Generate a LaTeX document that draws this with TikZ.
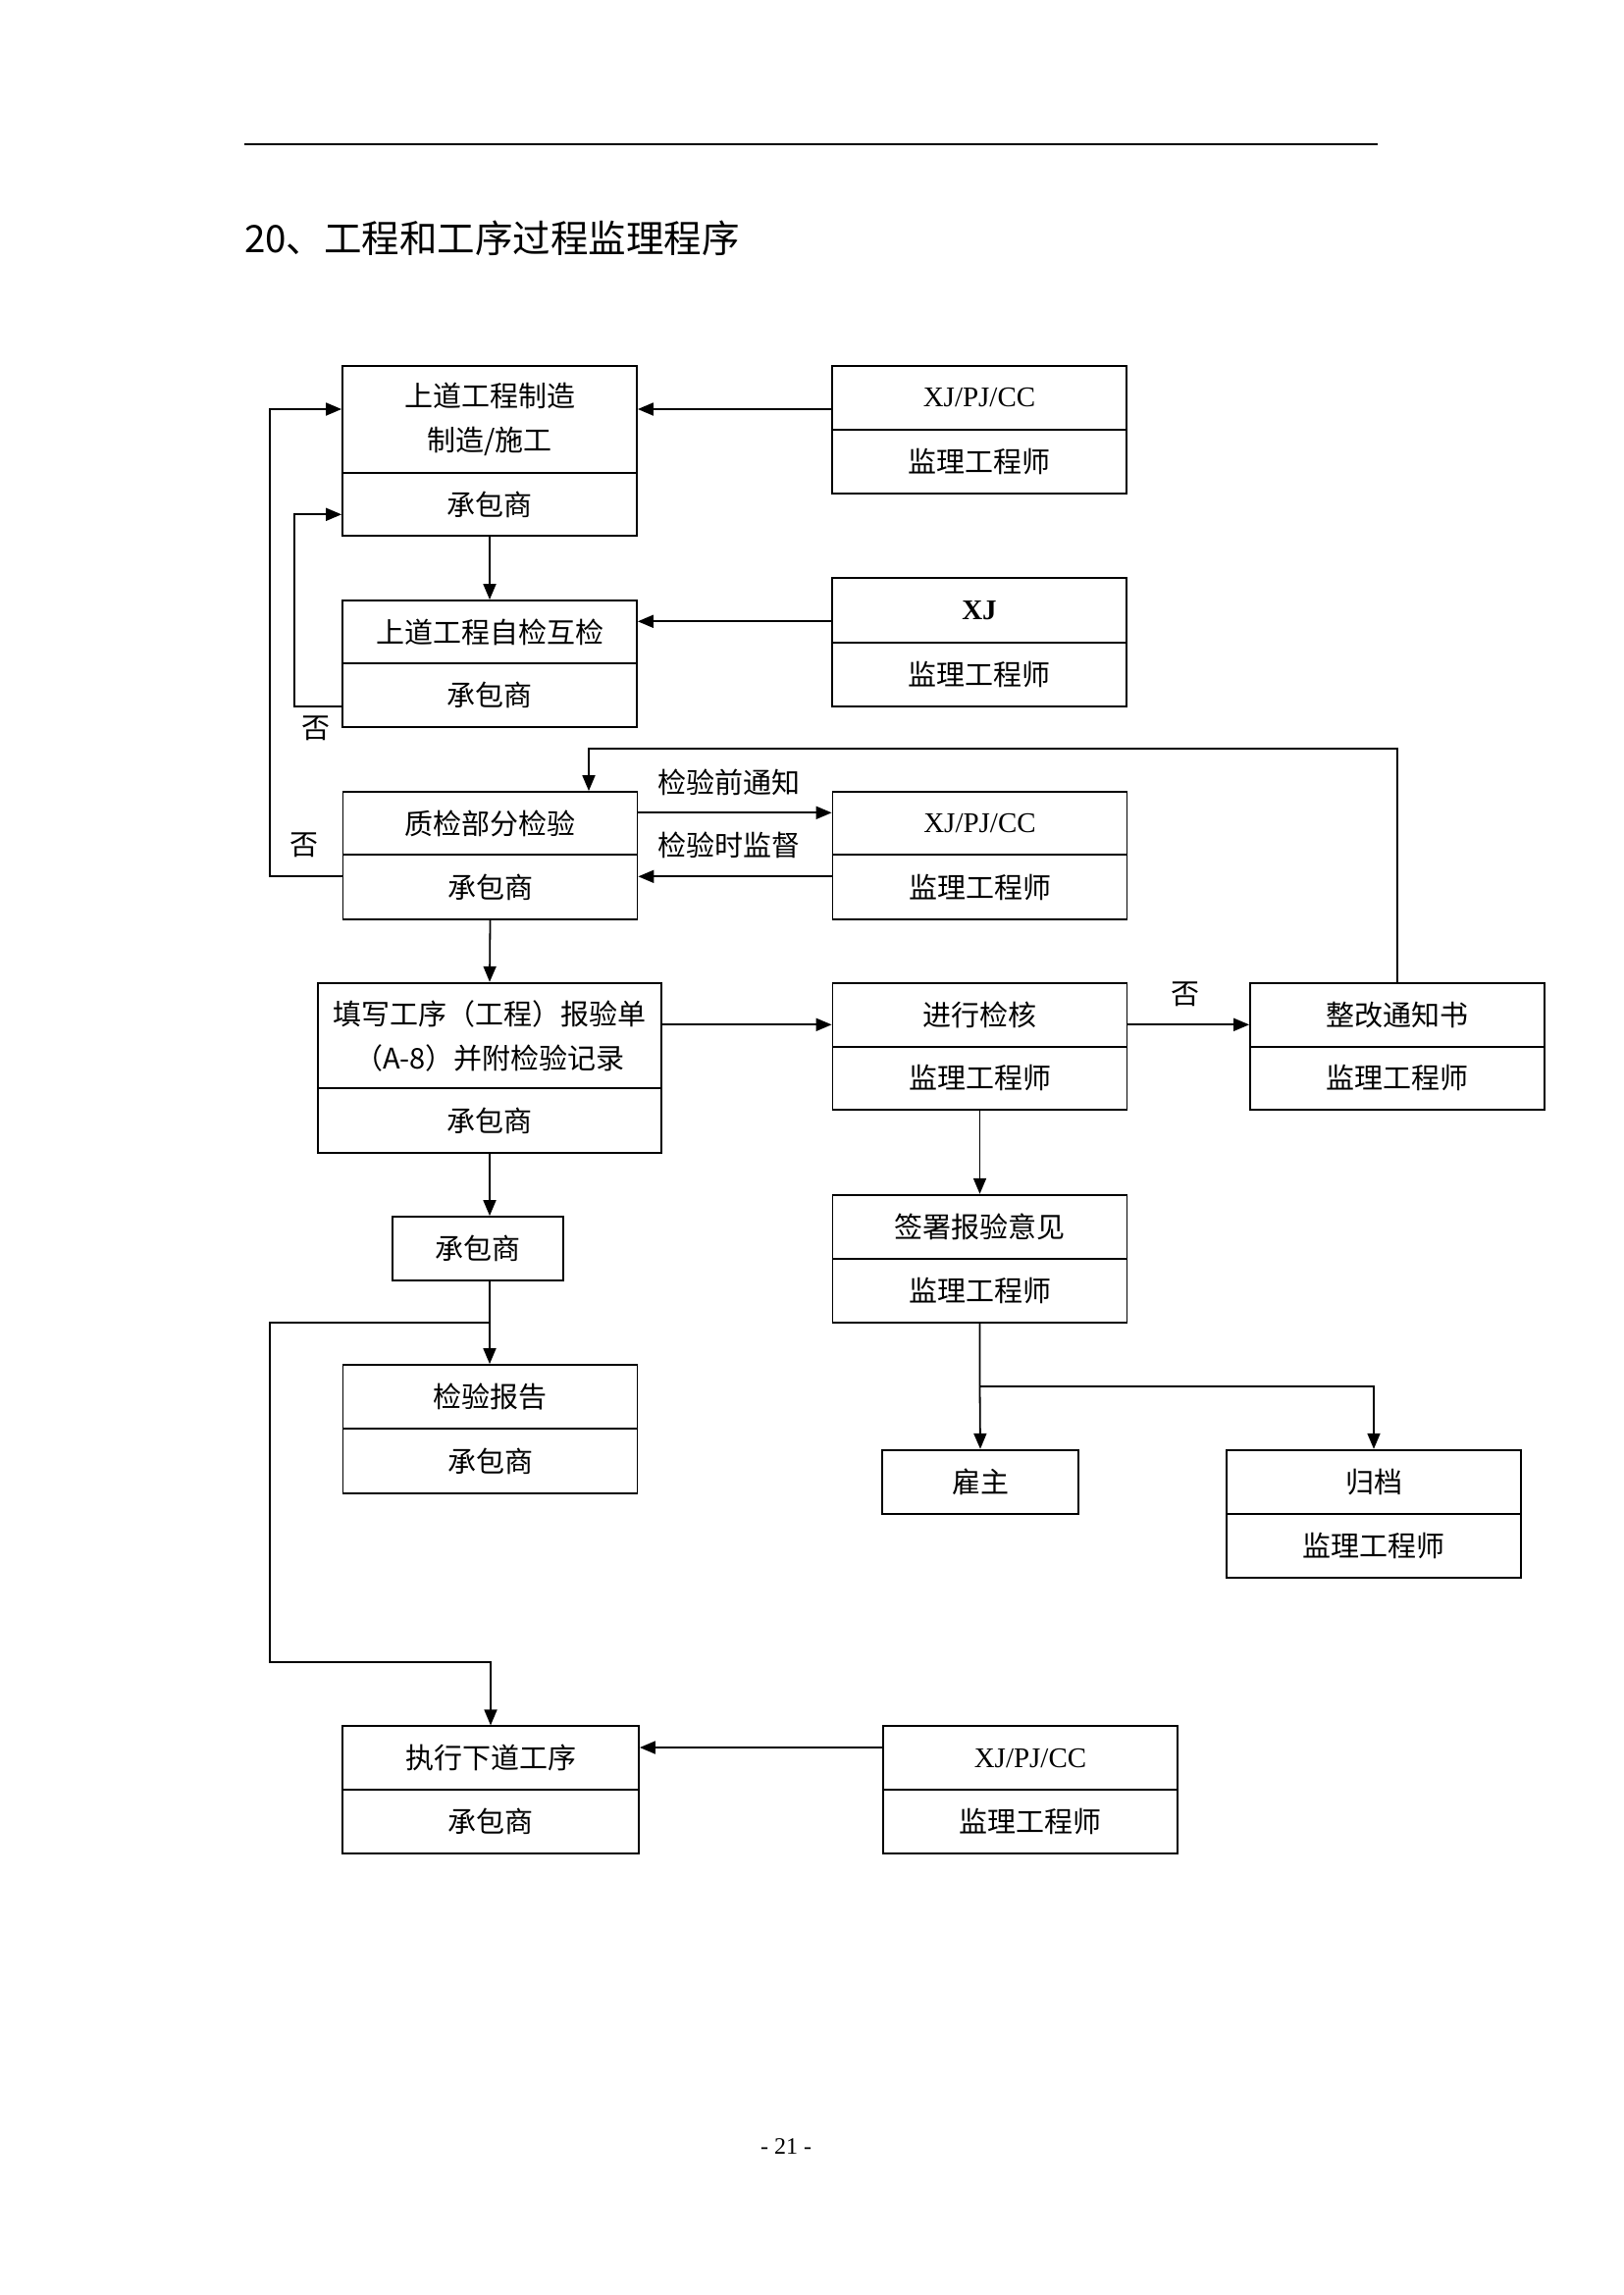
\documentclass[tikz,border=0pt]{standalone}
\usepackage{fontspec}
\setmainfont{Liberation Serif}
\newfontfamily\cjk{Noto Sans CJK SC}
\usetikzlibrary{arrows.meta}
\begin{document}
\begin{tikzpicture}[x=1pt,y=-1pt,
  box/.style={draw, line width=1.8pt, inner sep=0pt, align=center,
    font=\cjk\fontsize{29}{45}\selectfont},
  lat/.style={box, font=\fontsize{29}{45}\selectfont},
  w300/.style={minimum width=300pt},
  arr/.style={line width=1.8pt, -{Triangle[length=16pt,width=13pt]}},
  lbl/.style={font=\cjk\fontsize{29}{35}\selectfont, inner sep=0pt}]
\useasboundingbox (0,0) rectangle (1654,2339);
% header
\draw[line width=2pt] (249,146.7) -- (1404,146.7);
\node[anchor=west, inner sep=0pt, font=\cjk\fontsize{38.5}{38.5}\selectfont] (title) at (249,243) {20、工程和工序过程监理程序};
\node[inner sep=0pt, font=\fontsize{24}{24}\selectfont] (pg) at (801,2188) {- 21 -};
% row 1
\node[box, w300, minimum height=109pt] (at) at (499,427.5) {上道工程制造\\制造/施工};
\node[box, w300, minimum height=64pt] (ab) at (499,514) {承包商};
\node[lat, w300, minimum height=65pt] (r1t) at (998,405.5) {XJ/PJ/CC};
\node[box, w300, minimum height=65pt] (r1b) at (998,470.5) {监理工程师};
% row 2
\node[box, w300, minimum height=64pt] (bt) at (499,644) {上道工程自检互检};
\node[box, w300, minimum height=65pt] (bb) at (499,708.5) {承包商};
\node[lat, w300, minimum height=66pt] (r2t) at (998,622) {\textbf{XJ}};
\node[box, w300, minimum height=65pt] (r2b) at (998,687.5) {监理工程师};
% row 3
\node[box, w300, minimum height=64pt] (ct) at (499.5,839) {质检部分检验};
\node[box, w300, minimum height=66pt] (cb) at (499.5,904) {承包商};
\node[lat, w300, minimum height=64pt] (r3t) at (998.5,839) {XJ/PJ/CC};
\node[box, w300, minimum height=66pt] (r3b) at (998.5,904) {监理工程师};
\node[lbl] (l1) at (743,797) {检验前通知};
\node[lbl] (l2) at (743,861) {检验时监督};
% row 4
\node[box, minimum width=350pt, minimum height=107.6pt] (dt) at (499,1055.5) {填写工序（工程）报验单\\（A-8）并附检验记录};
\node[box, minimum width=350pt, minimum height=65.7pt] (db) at (499,1142.2) {承包商};
\node[box, w300, minimum height=65pt] (et) at (998.5,1034.2) {进行检核};
\node[box, w300, minimum height=64.3pt] (eb) at (998.5,1098.9) {监理工程师};
\node[box, w300, minimum height=65pt] (ft) at (1424,1034.2) {整改通知书};
\node[box, w300, minimum height=64.3pt] (fb) at (1424,1098.9) {监理工程师};
% lower left
\node[box, minimum width=174pt, minimum height=65pt] (g) at (487,1272.5) {承包商};
\node[box, w300, minimum height=65pt] (ht) at (499.5,1423.5) {检验报告};
\node[box, w300, minimum height=65.7pt] (hb) at (499.5,1488.9) {承包商};
% lower right
\node[box, w300, minimum height=65pt] (it) at (998.5,1250.2) {签署报验意见};
\node[box, w300, minimum height=65pt] (ib) at (998.5,1315.2) {监理工程师};
\node[box, minimum width=200pt, minimum height=65pt] (k) at (999,1510.2) {雇主};
\node[box, w300, minimum height=65pt] (lt) at (1400,1510.2) {归档};
\node[box, w300, minimum height=65pt] (lb) at (1400,1575.2) {监理工程师};
% bottom
\node[box, minimum width=302pt, minimum height=65pt] (jt) at (500,1791.8) {执行下道工序};
\node[box, minimum width=302pt, minimum height=65pt] (jb) at (500,1856.8) {承包商};
\node[lat, w300, minimum height=65pt] (mt) at (1050,1791.8) {XJ/PJ/CC};
\node[box, w300, minimum height=65pt] (mb) at (1050,1856.8) {监理工程师};
% no labels
\node[lbl] (n1) at (322,742) {否};
\node[lbl] (n2) at (310,861) {否};
\node[lbl] (n3) at (1208,1013) {否};
% coordinates
\coordinate (oT) at (275,417);
\coordinate (oL) at (275,893.3);
\coordinate (iT) at (300,524.3);
\coordinate (iL) at (300,720);
\coordinate (y2) at (0,633.3);
\coordinate (y3) at (0,828.3);
\coordinate (y5) at (0,1044.3);
\coordinate (fbT) at (600,763);
\coordinate (jk) at (998.5,1412.7);
\coordinate (jg) at (499,1347.7);
\coordinate (jl1) at (275,1347.7);
\coordinate (jl2) at (275,1694.3);
\coordinate (y6) at (0,1781);
% connectors
\draw[arr] (r1t.west |- oT) -- (at.east |- oT);
\draw[arr] (cb.west |- oL) -- (oL) -- (oT) -- (at.west |- oT);
\draw[arr] (bb.west |- iL) -- (iL) -- (iT) -- (ab.west |- iT);
\draw[arr] (ab.south) -- (bt.north);
\draw[arr] (r2t.west |- y2) -- (bt.east |- y2);
\draw[arr] (ct.east |- y3) -- (r3t.west |- y3);
\draw[arr] (r3b.west |- oL) -- (cb.east |- oL);
\draw[arr] (cb.south) -- (dt.north);
\draw[arr] (dt.east |- y5) -- (et.west |- y5);
\draw[arr] (et.east |- y5) -- (ft.west |- y5);
\draw[arr] (ft.north) |- (fbT) -- (ct.north -| fbT);
\draw[arr] (eb.south) -- (it.north);
\draw[arr] (ib.south) -- (jk) -- (k.north);
\draw[arr] (jk) -| (lt.north);
\draw[arr] (db.south) -- (g.north -| db.south);
\draw[arr] (g.south -| jg) -- (ht.north -| jg);
\draw[arr] (jg) -- (jl1) -- (jl2) -| (jt.north);
\draw[arr] (mt.west |- y6) -- (jt.east |- y6);
\end{tikzpicture}
\end{document}
